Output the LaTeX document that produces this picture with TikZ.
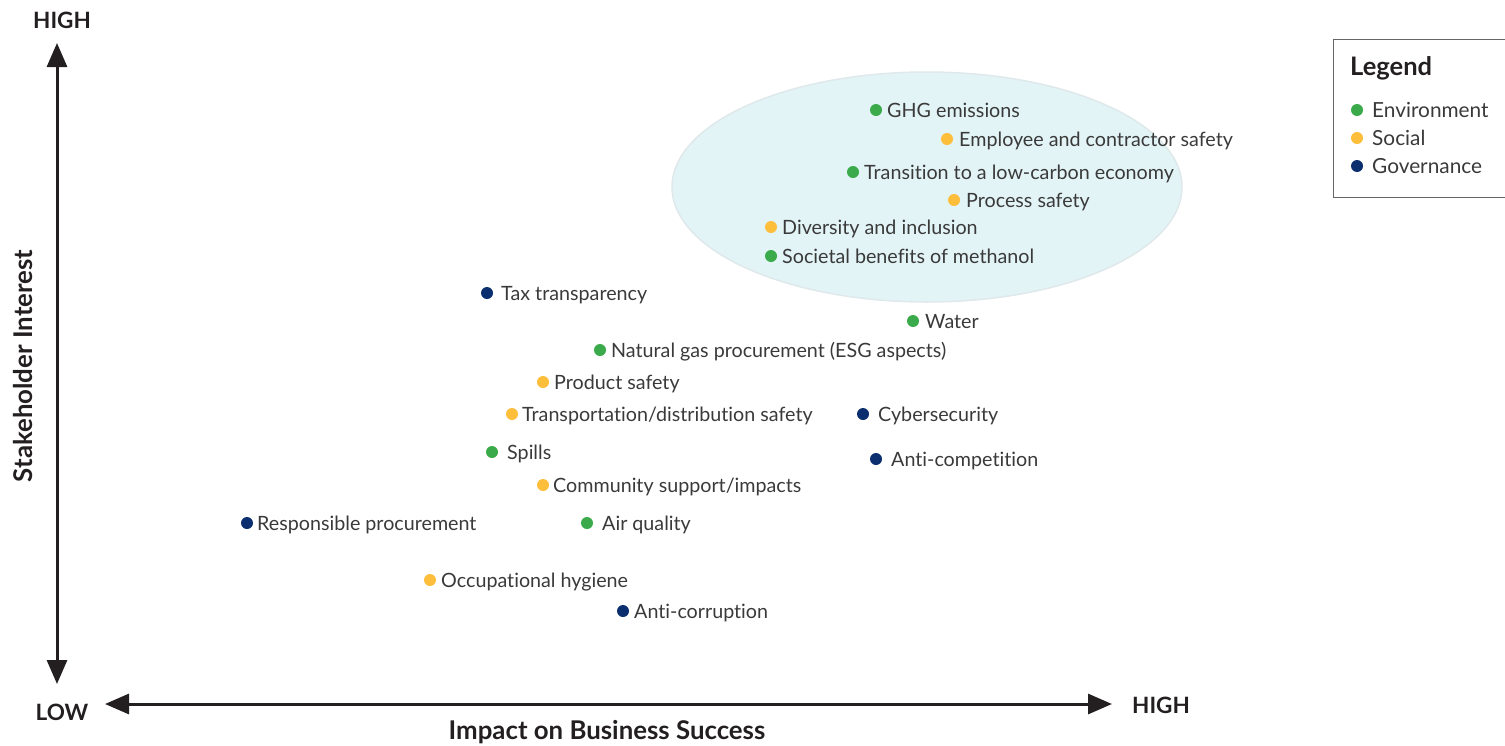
\documentclass[tikz,border=0pt]{standalone}
\usepackage{fontspec}
\setmainfont{Lato}[Ligatures={NoCommon,NoContextual}]
\usetikzlibrary{arrows.meta}
\definecolor{envc}{HTML}{3BAA4A}
\definecolor{socc}{HTML}{FDBE3C}
\definecolor{govc}{HTML}{0B2F6E}
\definecolor{txt}{HTML}{3A3A3A}
\definecolor{axc}{HTML}{231F20}
\definecolor{ellfill}{HTML}{E3F4F7}
\definecolor{ellline}{HTML}{DFE8EA}
\tikzset{
  lbl/.style={anchor=base west, inner sep=0pt, text=txt, font=\fontsize{19.7}{22}\selectfont},
  leglbl/.style={lbl, font=\fontsize{20.8}{24}\selectfont},
  axlbl/.style={inner sep=0pt, text=axc, font=\fontsize{22.5}{26}\selectfont\bfseries},
  axtitle/.style={inner sep=0pt, text=axc, font=\fontsize{25.8}{30}\selectfont\bfseries},
  dotn/.style={circle, inner sep=0pt, minimum size=12pt, fill=#1},
  axis/.style={line width=3pt, draw=axc, -{Triangle[length=24pt,width=20pt]}},
}
\newcommand\mpoint[6]{%
  \node[dotn=#1] (#2) at (#3,#4) {};
  \node[lbl] (#2t) at (#5,#4+7) {#6};}
\newcommand\lpoint[6]{%
  \node[dotn=#1] (#2) at (#3,#4) {};
  \node[leglbl] (#2t) at (#5,#4+7.5) {#6};}
\begin{document}
\begin{tikzpicture}[x=1pt,y=-1pt]
\useasboundingbox (0,0) rectangle (1505,745);
% ellipse
\filldraw[fill=ellfill, draw=ellline, line width=1.5pt] (927,187) ellipse [x radius=255, y radius=115];
% axes
\coordinate (o) at (57,375);
\coordinate (ytop) at (57,43);
\coordinate (ybot) at (57,684);
\coordinate (xl) at (105,704);
\coordinate (xr) at (1112,704);
\coordinate (xm) at (600,704);
\draw[axis] (o) -- (ytop);
\draw[axis] (o) -- (ybot);
\draw[axis] (xm) -- (xl);
\draw[axis] (xm) -- (xr);
\node[axlbl] (yhigh) at (62,20.5) {HIGH};
\node[axlbl] (xlow) at (62,712) {LOW};
\node[axlbl] (xhigh) at (1161,705) {HIGH};
\node[axtitle] (xtitle) at (607,732) {Impact on Business Success};
\node[axtitle, rotate=90] (ytitle) at (23,366) {Stakeholder Interest};
% legend
\draw[draw=gray!80!black, line width=1pt] (1510,39) -- (1333,39) -- (1333,197) -- (1510,197);
\node[anchor=base west, inner sep=0pt, text=axc, font=\fontsize{25.5}{30}\selectfont\bfseries] (legend) at (1350,75) {Legend};
\lpoint{envc}{le}{1357}{110}{1372}{Environment}
\lpoint{socc}{ls}{1357}{138}{1372}{Social}
\lpoint{govc}{lg}{1357}{166}{1372}{Governance}
% points
\mpoint{envc}{p1}{876}{110}{887}{GHG emissions}
\mpoint{socc}{p2}{947}{139}{959}{Employee and contractor safety}
\mpoint{envc}{p3}{853}{172}{864}{Transition to a low-carbon economy}
\mpoint{socc}{p4}{954}{200}{966}{Process safety}
\mpoint{socc}{p5}{771}{227}{782}{Diversity and inclusion}
\mpoint{envc}{p6}{771}{256}{782}{Societal benefits of methanol}
\mpoint{govc}{p7}{487}{293}{501}{Tax transparency}
\mpoint{envc}{p8}{913}{321}{925}{Water}
\mpoint{envc}{p9}{600}{350}{611}{Natural gas procurement (ESG aspects)}
\mpoint{socc}{p10}{543}{382}{554}{Product safety}
\mpoint{socc}{p11}{512}{414}{522}{Transportation/distribution safety}
\mpoint{govc}{p12}{863}{414}{878}{Cybersecurity}
\mpoint{envc}{p13}{492}{452}{507}{Spills}
\mpoint{govc}{p14}{876}{459}{891}{Anti-competition}
\mpoint{socc}{p15}{543}{485}{553}{Community support/impacts}
\mpoint{govc}{p16}{247}{523}{257}{Responsible procurement}
\mpoint{envc}{p17}{587}{523}{602}{Air quality}
\mpoint{socc}{p18}{430}{580}{441}{Occupational hygiene}
\mpoint{govc}{p19}{623}{611}{634}{Anti-corruption}
\end{tikzpicture}
\end{document}
